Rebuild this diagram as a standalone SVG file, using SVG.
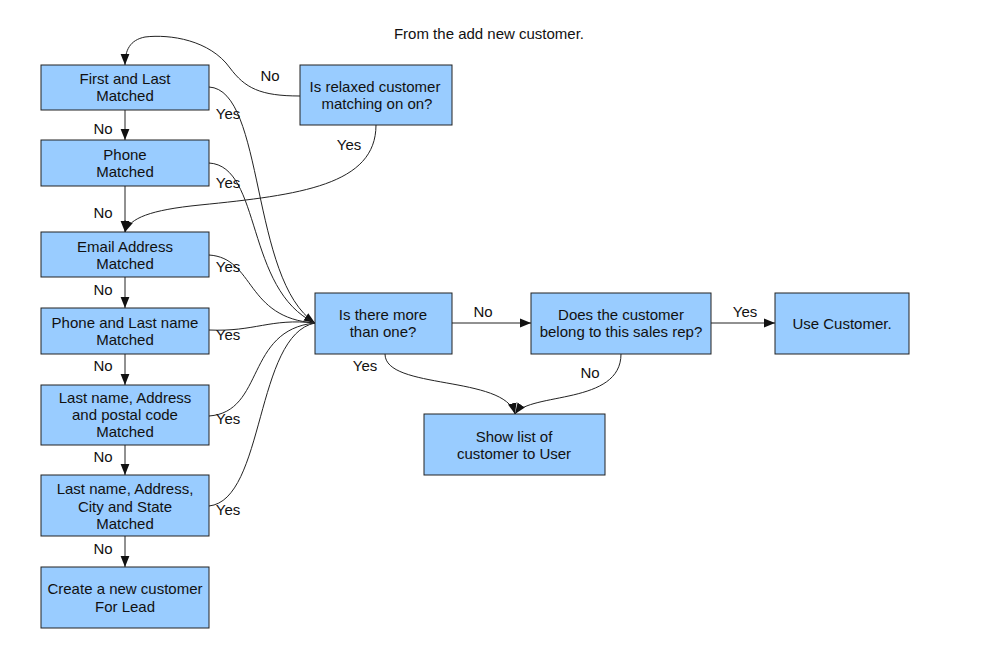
<svg xmlns="http://www.w3.org/2000/svg" width="986" height="651" viewBox="0 0 986 651">
<style>
.box{fill:#99ccff;stroke:#222;stroke-width:1}
text{font-family:"Liberation Sans",Arial,sans-serif;font-size:15px;fill:#111;text-anchor:middle}
.c{fill:none;stroke:#222;stroke-width:1}
</style>
<defs>
<marker id="ah" viewBox="0 0 10 10" refX="10" refY="5" markerWidth="11" markerHeight="11" markerUnits="userSpaceOnUse" orient="auto">
<path d="M0,1 L10,5 L0,9 Z" fill="#111"/>
</marker>
</defs>
<rect width="986" height="651" fill="#fff"/>
<text x="489" y="39">From the add new customer.</text>

<g id="n1"><rect class="box" x="41" y="65" width="168" height="45"/><text x="125" y="84">First and Last</text><text x="125" y="101">Matched</text></g>
<g id="n2"><rect class="box" x="41" y="140" width="168" height="46"/><text x="125" y="160">Phone</text><text x="125" y="177">Matched</text></g>
<g id="n3"><rect class="box" x="41" y="232" width="168" height="45"/><text x="125" y="252">Email Address</text><text x="125" y="269">Matched</text></g>
<g id="n4"><rect class="box" x="41" y="308" width="168" height="46"/><text x="125" y="328">Phone and Last name</text><text x="125" y="345">Matched</text></g>
<g id="n5"><rect class="box" x="41" y="385" width="168" height="60"/><text x="125" y="403">Last name, Address</text><text x="125" y="420">and postal code</text><text x="125" y="437">Matched</text></g>
<g id="n6"><rect class="box" x="41" y="475" width="168" height="61"/><text x="125" y="494">Last name, Address,</text><text x="125" y="512">City and State</text><text x="125" y="529">Matched</text></g>
<g id="n7"><rect class="box" x="41" y="567" width="168" height="61"/><text x="125" y="594">Create a new customer</text><text x="125" y="612">For Lead</text></g>
<g id="relaxed"><rect class="box" x="300" y="65" width="152" height="60"/><text x="375" y="92">Is relaxed customer</text><text x="377" y="109">matching on on?</text></g>
<g id="more"><rect class="box" x="315" y="293" width="137" height="61"/><text x="383" y="320">Is there more</text><text x="383" y="337">than one?</text></g>
<g id="belong"><rect class="box" x="531" y="293" width="180" height="61"/><text x="621" y="320">Does the customer</text><text x="621" y="337">belong to this sales rep?</text></g>
<g id="use"><rect class="box" x="775" y="293" width="134" height="61"/><text x="842" y="329">Use Customer.</text></g>
<g id="show"><rect class="box" x="424" y="414" width="181" height="61"/><text x="514" y="442">Show list of</text><text x="514" y="459">customer to User</text></g>

<g id="connectors">
<path class="c" d="M125,110 V140" marker-end="url(#ah)"/>
<path class="c" d="M125,186 V232" marker-end="url(#ah)"/>
<path class="c" d="M125,277 V308" marker-end="url(#ah)"/>
<path class="c" d="M125,354 V385" marker-end="url(#ah)"/>
<path class="c" d="M125,445 V475" marker-end="url(#ah)"/>
<path class="c" d="M125,536 V567" marker-end="url(#ah)"/>
<path class="c" d="M300,96 C260,96 245,88 230,68 C210,40 170,34 145,37 C130,40 125,50 125,65" marker-end="url(#ah)"/>
<path class="c" d="M376,125 C376,185 300,195 200,205 C150,210 130,218 125,232" marker-end="url(#ah)"/>
<path class="c" d="M209,87 C265,90 250,280 315,323" marker-end="url(#ah)"/>
<path class="c" d="M209,163 C262,166 245,290 315,323"/>
<path class="c" d="M209,255 C255,258 245,318 315,323"/>
<path class="c" d="M209,330 C255,332 270,318 315,323"/>
<path class="c" d="M209,416 C265,412 245,330 315,323"/>
<path class="c" d="M209,506 C265,500 255,335 315,323"/>
<path class="c" d="M452,323 H531" marker-end="url(#ah)"/>
<path class="c" d="M711,323 H775" marker-end="url(#ah)"/>
<path class="c" d="M385,354 C385,390 505,375 515,414" marker-end="url(#ah)"/>
<path class="c" d="M621,354 C621,405 530,392 515,414" marker-end="url(#ah)"/>
</g>

<g id="labels">
<text x="103" y="134">No</text>
<text x="103" y="218">No</text>
<text x="103" y="295">No</text>
<text x="103" y="371">No</text>
<text x="103" y="462">No</text>
<text x="103" y="554">No</text>
<text x="228" y="119">Yes</text>
<text x="228" y="188">Yes</text>
<text x="228" y="272">Yes</text>
<text x="228" y="340">Yes</text>
<text x="228" y="424">Yes</text>
<text x="228" y="515">Yes</text>
<text x="270" y="81">No</text>
<text x="349" y="150">Yes</text>
<text x="483" y="317">No</text>
<text x="745" y="317">Yes</text>
<text x="365" y="371">Yes</text>
<text x="590" y="378">No</text>
</g>
</svg>
